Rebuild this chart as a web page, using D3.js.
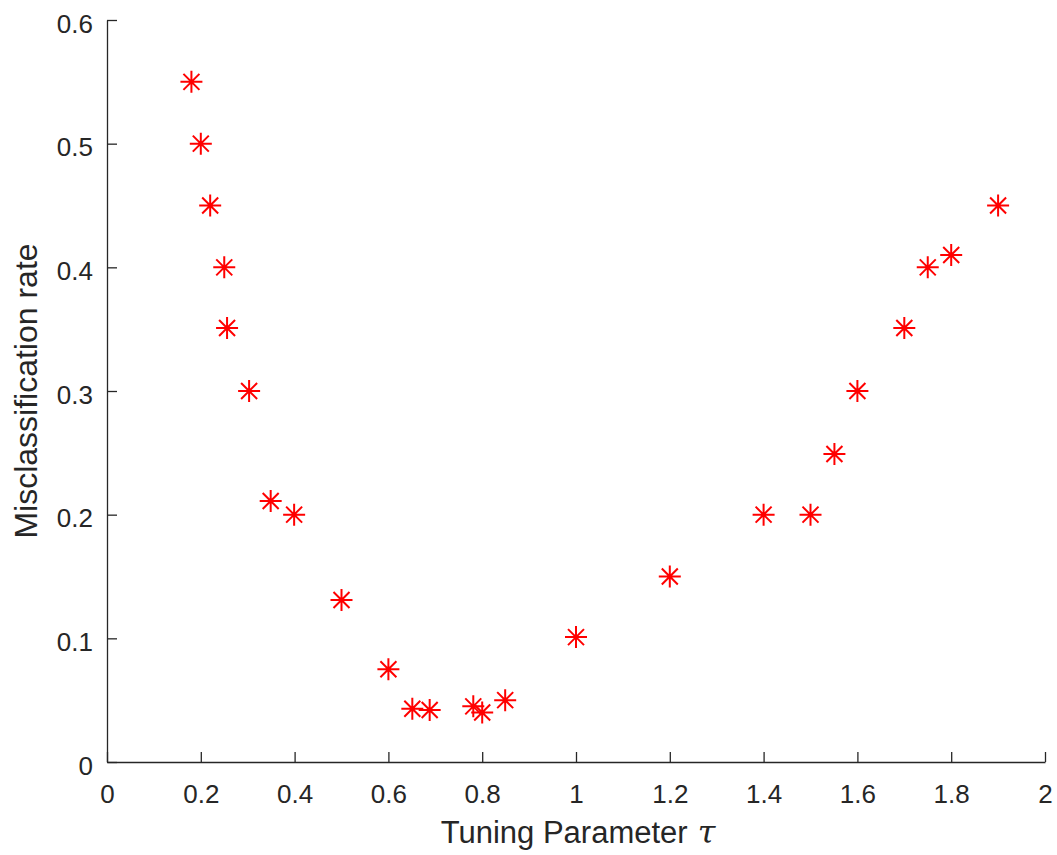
<!DOCTYPE html>
<html>
<head>
<meta charset="utf-8">
<script src="https://cdn.jsdelivr.net/npm/d3@7"></script>
<style>
body{margin:0;background:#fff;}
svg{display:block;}
</style>
</head>
<body>
<svg id="chart" width="1057" height="855"></svg>
<script>
const tau = [0.18, 0.20, 0.22, 0.25, 0.256, 0.303, 0.349, 0.399, 0.50, 0.60, 0.651, 0.688, 0.781, 0.80, 0.849, 1.00, 1.20, 1.40, 1.50, 1.551, 1.60, 1.70, 1.75, 1.80, 1.90];
const rate = [0.55, 0.50, 0.45, 0.40, 0.351, 0.30, 0.211, 0.20, 0.131, 0.075, 0.043, 0.042, 0.045, 0.040, 0.050, 0.101, 0.150, 0.200, 0.200, 0.249, 0.300, 0.351, 0.400, 0.410, 0.450];
const xTicks = [0, 0.2, 0.4, 0.6, 0.8, 1, 1.2, 1.4, 1.6, 1.8, 2];
const yTicks = [0, 0.1, 0.2, 0.3, 0.4, 0.5, 0.6];

const svg = d3.select("#chart");
const m = {left:107, right:1045, top:20, bottom:762};
const x = d3.scaleLinear().domain([0,2]).range([m.left, m.right]);
const y = d3.scaleLinear().domain([0,0.6]).range([m.bottom, m.top]);
const axisColor = "#262626";
const font = "'Liberation Sans', Arial, Helvetica, sans-serif";
const fmt = d => String(+d.toFixed(1));

const xAxis = d3.axisBottom(x).tickValues(xTicks).tickSizeInner(-10).tickSizeOuter(0).tickPadding(0).tickFormat(fmt);
const yAxis = d3.axisLeft(y).tickValues(yTicks).tickSizeInner(-10).tickSizeOuter(0).tickPadding(0).tickFormat(fmt);

const gx = svg.append("g").attr("transform", `translate(0,${m.bottom})`).call(xAxis);
const gy = svg.append("g").attr("transform", `translate(${m.left},0)`).call(yAxis);
[gx, gy].forEach(g => {
  g.attr("font-size", 26).attr("font-family", font);
  g.select(".domain").attr("stroke", axisColor).attr("stroke-width", 1.3);
  g.selectAll(".tick line").attr("stroke", axisColor).attr("stroke-width", 1.3);
  g.selectAll(".tick text").attr("fill", axisColor);
});
gx.selectAll(".tick text").attr("y", 41).attr("dy", null);
gy.selectAll(".tick text").attr("x", -14).attr("dy", null).attr("y", 12);

// axis labels
const xl = svg.append("text")
  .attr("x", (m.left + m.right)/2 + 2).attr("y", 843)
  .attr("text-anchor", "middle")
  .attr("font-family", font).attr("font-size", 31).attr("fill", axisColor);
xl.append("tspan").text("Tuning Parameter");
xl.append("tspan").attr("dx", 10)
  .attr("font-family", "'DejaVu Serif','Liberation Serif',serif").attr("font-style", "italic").attr("font-size", 32)
  .text("τ");

svg.append("text")
  .attr("transform", `translate(37,${(m.top + m.bottom)/2}) rotate(-90)`)
  .attr("text-anchor", "middle")
  .attr("font-family", font).attr("font-size", 32).attr("fill", axisColor)
  .text("Misclassification rate");

// asterisk markers
const r = 11, rd = 8;
const star = `M${-r},0L${r},0M0,${-r}L0,${r}M${-rd},${-rd}L${rd},${rd}M${-rd},${rd}L${rd},${-rd}`;
const pts = tau.map((t,i) => ({t, v: rate[i]}));
svg.append("g").selectAll("path").data(pts).join("path")
  .attr("transform", d => `translate(${x(d.t)},${y(d.v)})`)
  .attr("d", star)
  .attr("stroke", "#ff0000").attr("stroke-width", 2).attr("fill", "none");
</script>
</body>
</html>
